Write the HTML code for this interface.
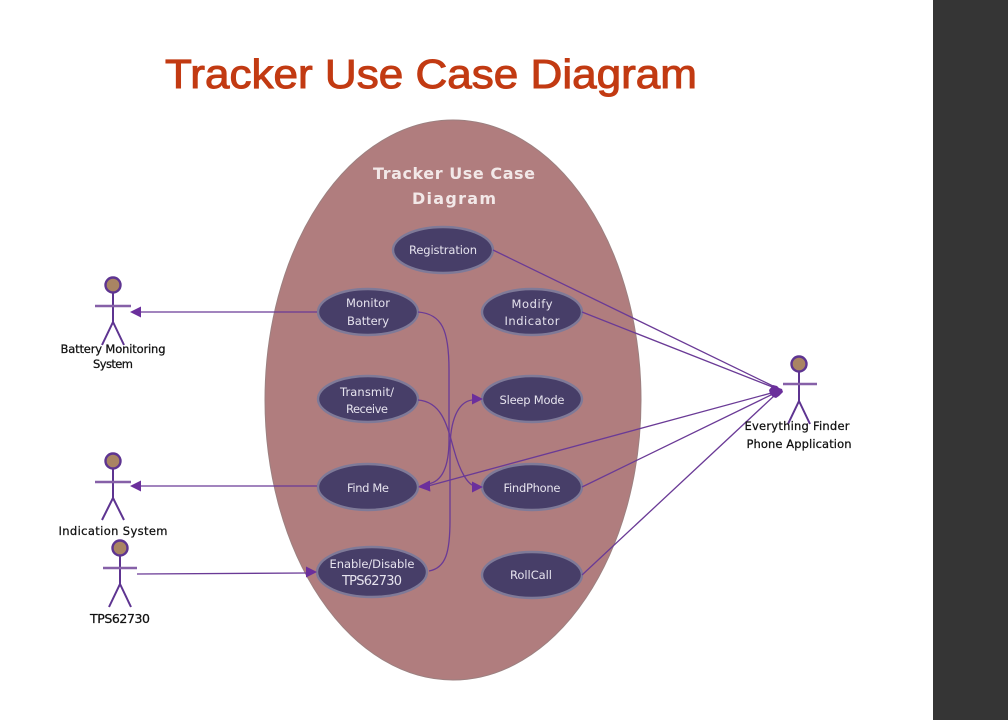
<!DOCTYPE html>
<html><head><meta charset="utf-8"><style>
html,body{margin:0;padding:0;background:#fff}
svg{display:block}
text{font-family:"DejaVu Sans","Liberation Sans",sans-serif}
.u{fill:#e6e3ee;font-size:11.5px;text-anchor:middle}
.a{fill:#111;font-size:11.5px;text-anchor:middle;stroke:#111;stroke-width:.25}
.e{fill:#473e68;stroke:#7f7a98;stroke-width:2.4}
.l{fill:none;stroke:#6a3a96;stroke-width:1.3}
.h{fill:#6b2f9c}
.s{fill:none;stroke:#5e3491;stroke-width:2}
.b{stroke:#8660a8;stroke-width:2.4}
.o{fill:#a98463;stroke:#5e3491;stroke-width:2.4}
</style></head><body>
<svg width="1008" height="720" viewBox="0 0 1008 720" xmlns="http://www.w3.org/2000/svg">
<rect width="1008" height="720" fill="#fff"/>
<rect x="933" y="0" width="75" height="720" fill="#353535"/>
<text x="165" y="88" textLength="532" lengthAdjust="spacingAndGlyphs" style="font-family:'Liberation Sans',sans-serif;font-size:41px;fill:#c23a12;stroke:#c23a12;stroke-width:1">Tracker Use Case Diagram</text>

<ellipse cx="453" cy="400" rx="188" ry="280" fill="#b07d7e" stroke="#9c8080" stroke-width="1"/>
<text x="454" y="179" textLength="162" style="font-size:16px;font-weight:bold;fill:#f2e8e8;text-anchor:middle">Tracker Use Case</text>
<text x="454" y="204" textLength="84" style="font-size:16px;font-weight:bold;fill:#f2e8e8;text-anchor:middle">Diagram</text>

<ellipse class="e" cx="443" cy="250" rx="50" ry="23"/>
<ellipse class="e" cx="368" cy="312" rx="50" ry="23"/>
<ellipse class="e" cx="532" cy="312" rx="50" ry="23"/>
<ellipse class="e" cx="368" cy="399" rx="50" ry="23"/>
<ellipse class="e" cx="532" cy="399" rx="50" ry="23"/>
<ellipse class="e" cx="368" cy="487" rx="50" ry="23"/>
<ellipse class="e" cx="532" cy="487" rx="50" ry="23"/>
<ellipse class="e" cx="372" cy="572" rx="55" ry="25"/>
<ellipse class="e" cx="532" cy="575" rx="50" ry="23"/>

<text class="u" x="443" y="254" textLength="68">Registration</text>
<text class="u" x="368" y="307" textLength="44">Monitor</text>
<text class="u" x="368" y="325" textLength="42">Battery</text>
<text class="u" x="532" y="308" textLength="41">Modify</text>
<text class="u" x="532" y="325" textLength="55">Indicator</text>
<text class="u" x="367" y="396" textLength="54">Transmit/</text>
<text class="u" x="367" y="413" textLength="42">Receive</text>
<text class="u" x="532" y="404" textLength="65">Sleep Mode</text>
<text class="u" x="368" y="492" textLength="42">Find Me</text>
<text class="u" x="532" y="492" textLength="57">FindPhone</text>
<text class="u" x="372" y="568" textLength="85">Enable/Disable</text>
<text class="u" x="372" y="585" textLength="60" style="font-size:13px">TPS62730</text>
<text class="u" x="531" y="579" textLength="42">RollCall</text>

<!-- connectors -->
<path class="l" d="M317 312H140"/><path class="h" d="M130 312l11-5.500v11z"/>
<path class="l" d="M317 486H140"/><path class="h" d="M130 486l11-5.500v11z"/>
<path class="l" d="M137 574L306 573"/><path class="h" d="M317 572l-11-5.500v11z"/>
<path class="l" d="M418 312C442 314 449 330 449 370V440C449 470 440 482 428 484"/><path class="h" d="M419 486l11-5.500v11z"/>
<path class="l" d="M418 400C442 402 447 425 454 450C460 472 468 485 475 486"/><path class="h" d="M483 487l-11-5.500v11z"/>
<path class="l" d="M429 571C446 568 450 552 450 520V450C450 420 458 402 472 400"/><path class="h" d="M483 399l-11-5.500v11z"/>
<path class="l" d="M493 250L775 387"/>
<path class="l" d="M582 312L775 388"/>
<path class="l" d="M428 486L775 392"/><path class="h" d="M418 487l11-6 1.500 10.500z"/>
<path class="l" d="M582 487L775 393"/>
<path class="l" d="M582 575L775 395" stroke-width="1"/>
<path class="h" d="M773 385l4 1 2 2 3 1 1 3-4 4-3 2-3-1-3-3-1-4z"/>

<!-- actors -->
<g>
<circle class="o" cx="113" cy="285" r="7.500"/>
<path class="s" d="M113 292V322L102 345M113 322L124 345"/><path class="b" d="M95 306H131"/>
</g>
<text class="a" x="113" y="353" textLength="105">Battery Monitoring</text>
<text class="a" x="113" y="368" textLength="40">System</text>
<g>
<circle class="o" cx="113" cy="461" r="7.500"/>
<path class="s" d="M113 468V498L102 520M113 498L124 520"/><path class="b" d="M95 482H131"/>
</g>
<text class="a" x="113" y="535" textLength="109">Indication System</text>
<g>
<circle class="o" cx="120" cy="548" r="7.500"/>
<path class="s" d="M120 555V584L109 607M120 584L131 607"/><path class="b" d="M103 568H137"/>
</g>
<text class="a" x="120" y="623" textLength="60" style="font-size:12.500px">TPS62730</text>
<g>
<circle class="o" cx="799" cy="364" r="7.500"/>
<path class="s" d="M799 371V401L788 424M799 401L810 424"/><path class="b" d="M783 384H817"/>
</g>
<text class="a" x="797" y="430" textLength="105">Everything Finder</text>
<text class="a" x="799" y="448" textLength="105">Phone Application</text>
</svg>
</body></html>
